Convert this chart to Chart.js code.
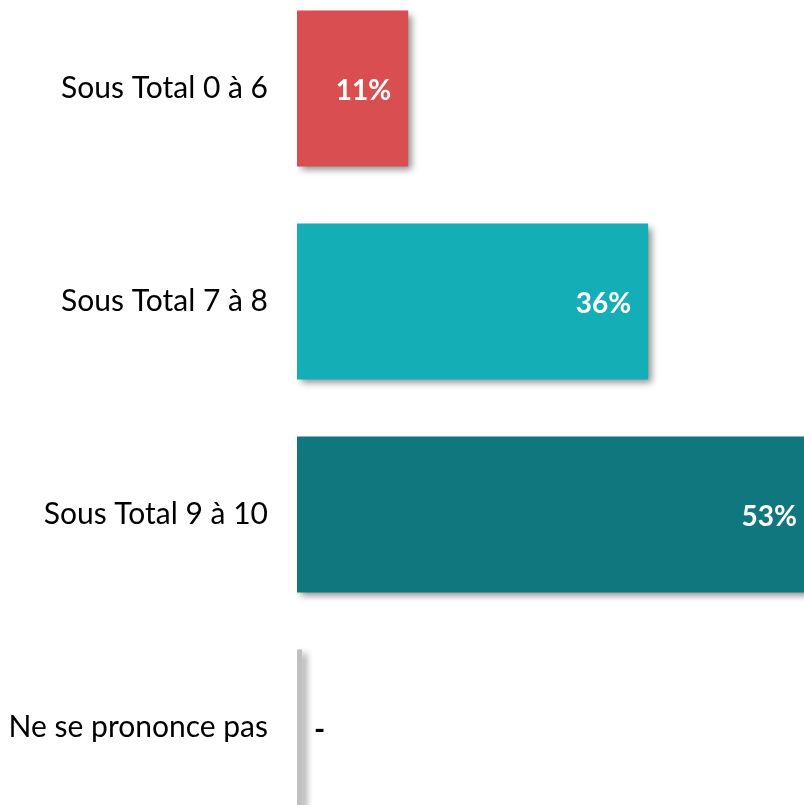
<!DOCTYPE html>
<html>
<head>
<meta charset="utf-8">
<script src="https://cdn.jsdelivr.net/npm/chart.js@4"></script>
<style>
  body { margin: 0; background: #fff; overflow: hidden; width: 804px; height: 805px; }
  #wrap { position: absolute; left: 0; top: -18px; width: 814px; height: 852px; }
</style>
</head>
<body>
<div id="wrap"><canvas id="mycanvas"></canvas></div>
<script>
// data
var categories = ['Sous Total 0 à 6', 'Sous Total 7 à 8', 'Sous Total 9 à 10', 'Ne se prononce pas'];
var values = [11.4, 36, 53, 0];
var barColors = ['#d94e50', '#14aeb6', '#10777e', '#c0c0c0'];

// drop shadow under the bars
var barShadow = {
  id: 'barShadow',
  beforeDatasetDraw: function(chart) {
    var ctx = chart.ctx;
    ctx.save();
    ctx.shadowColor = 'rgba(0,0,0,0.45)';
    ctx.shadowBlur = 7;
    ctx.shadowOffsetX = 4;
    ctx.shadowOffsetY = 4;
  },
  afterDatasetDraw: function(chart) {
    chart.ctx.restore();
  }
};

// % labels inside the bars, "-" when no value
var valueLabels = {
  id: 'valueLabels',
  afterDatasetsDraw: function(chart) {
    var ctx = chart.ctx;
    var meta = chart.getDatasetMeta(0);
    meta.data.forEach(function(bar, i) {
      var v = values[i];
      ctx.save();
      ctx.textBaseline = 'middle';
      if (v > 0) {
        ctx.font = 'bold 28px Lato';
        ctx.fillStyle = '#ffffff';
        ctx.textAlign = 'right';
        ctx.fillText(Math.round(v) + '%', bar.x - 17, bar.y + 2);
      } else {
        ctx.font = 'bold 30px Lato';
        ctx.fillStyle = '#000000';
        ctx.textAlign = 'left';
        ctx.fillText('-', bar.x + 12, bar.y + 3);
      }
      ctx.restore();
    });
  }
};

var ctx = document.getElementById('mycanvas');
var barGraph = new Chart(ctx, {
  type: 'bar',
  data: {
    labels: categories,
    datasets: [{
      data: values,
      backgroundColor: barColors,
      borderWidth: 0,
      minBarLength: 5,
      barPercentage: 0.732,
      categoryPercentage: 1
    }]
  },
  options: {
    indexAxis: 'y',
    responsive: true,
    maintainAspectRatio: false,
    animation: false,
    layout: { padding: 0 },
    plugins: {
      legend: { display: false },
      tooltip: { enabled: false }
    },
    scales: {
      x: {
        display: false,
        min: 0,
        max: 53
      },
      y: {
        grid: { display: false, drawTicks: false, tickLength: 0 },
        border: { display: false },
        ticks: {
          padding: 29,
          color: '#000000',
          font: { family: 'Lato', size: 30 }
        },
        afterFit: function(scale) {
          scale.width = 297;
          scale.paddingTop = 0;
          scale.paddingBottom = 0;
        }
      }
    }
  },
  plugins: [barShadow, valueLabels]
});
</script>
</body>
</html>
